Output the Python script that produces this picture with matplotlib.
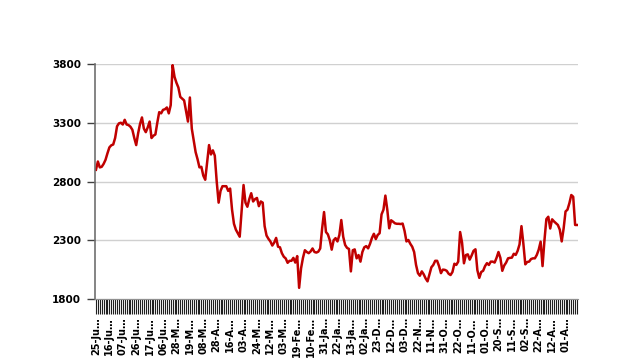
import matplotlib

matplotlib.use("Agg")
import matplotlib.pyplot as plt
import numpy as np

# daily closing values, oldest label first on the left (dates run backwards)
values = [
    2900, 2970, 2920, 2925, 2950, 2985, 3040, 3090, 3108, 3115,
    3170, 3270, 3295, 3300, 3285, 3325, 3285, 3280, 3266, 3240,
    3170, 3110, 3210, 3290, 3345, 3250, 3220, 3260, 3310, 3170,
    3190, 3200, 3300, 3390, 3380, 3410, 3415, 3430, 3380, 3450,
    3790, 3690, 3640, 3600, 3520, 3505, 3490, 3400, 3310, 3515,
    3250, 3150, 3050, 2990, 2920, 2925, 2850, 2815, 2960, 3110,
    3030, 3065, 3020, 2800, 2620, 2720, 2760, 2760, 2760, 2720,
    2740, 2560, 2440, 2390, 2360, 2330, 2550, 2770, 2620, 2585,
    2650, 2700, 2630, 2650, 2660, 2590, 2630, 2620, 2420, 2340,
    2312, 2290, 2255, 2280, 2320, 2245, 2240, 2190, 2160, 2145,
    2108, 2125, 2125, 2150, 2110, 2165, 1895, 2060, 2150, 2215,
    2200, 2190, 2205, 2230, 2200, 2195, 2203, 2230, 2400, 2540,
    2370, 2350, 2300, 2220, 2300, 2318, 2290, 2345, 2472, 2330,
    2260, 2235, 2226, 2035, 2215, 2222, 2146, 2174, 2118, 2200,
    2240, 2250, 2231, 2270, 2320, 2355, 2310, 2345, 2360, 2520,
    2560, 2680, 2560, 2402, 2470, 2458, 2444, 2440, 2440, 2438,
    2442, 2380, 2290, 2302, 2270, 2245, 2200, 2090, 2020, 1998,
    2035, 2010, 1975, 1950, 2010, 2070, 2090, 2125, 2125, 2080,
    2020, 2050, 2048, 2040, 2015, 2004, 2030, 2100, 2090, 2118,
    2370, 2280, 2104, 2174, 2180, 2135, 2170, 2210, 2223, 2045,
    1980, 2030, 2040, 2080, 2105, 2090, 2118, 2118, 2110, 2150,
    2200, 2150, 2040, 2085, 2110, 2146, 2150, 2152, 2185, 2175,
    2210, 2265, 2420, 2270, 2095, 2115, 2118, 2140, 2146, 2146,
    2175, 2220, 2288, 2080, 2300, 2480, 2500, 2400, 2478, 2460,
    2445, 2430, 2390, 2290, 2400, 2545, 2560, 2615, 2685, 2670,
    2430, 2430,
]

date_labels = [
    "25-Ju…", "16-Ju…", "07-Ju…", "26-Ju…", "17-Ju…", "06-Ju…",
    "28-M…", "19-M…", "08-M…", "28-A…", "16-A…", "03-A…",
    "24-M…", "12-M…", "03-M…", "19-Fe…", "10-Fe…", "31-Ja…",
    "22-Ja…", "13-Ja…", "02-Ja…", "23-D…", "12-D…", "03-D…",
    "22-N…", "11-N…", "31-O…", "22-O…", "11-O…", "01-O…",
    "20-S…", "11-S…", "02-S…", "22-A…", "12-A…", "01-A…",
]
label_step = 7
yticks = [1800, 2300, 2800, 3300, 3800]

fig = plt.figure(figsize=(6.2, 3.64), dpi=100)
ax = fig.add_axes([95 / 620, 1 - 299 / 364, 483 / 620, 235 / 364])

x = np.arange(len(values))
ax.plot(x, values, color="#C00000", linewidth=1.8, solid_joinstyle="round")

ax.set_xlim(-0.5, len(values) - 0.5)
ax.set_ylim(1800, 3800)
ax.set_yticks(yticks)
ax.set_yticklabels([str(v) for v in yticks], fontsize=7.5, fontweight="bold")
ax.yaxis.grid(True, color="#d0d0d0", linewidth=1)
ax.set_axisbelow(True)

# one tick per day forms the hatched band, labels every 7th day
ax.set_xticks(x, minor=True)
ax.set_xticks(x[::label_step])
ax.set_xticklabels(date_labels, rotation=90, fontsize=7, fontweight="bold")
ax.tick_params(axis="x", which="both", length=11, width=0.8, color="#202020", pad=2)
ax.tick_params(axis="y", length=6, width=1, color="#404040", pad=4)

for side in ("top", "right"):
    ax.spines[side].set_visible(False)
ax.spines["left"].set_color("#707070")
ax.spines["left"].set_linewidth(1.2)
ax.spines["bottom"].set_color("#909090")

fig.savefig("out.png", dpi=100)
